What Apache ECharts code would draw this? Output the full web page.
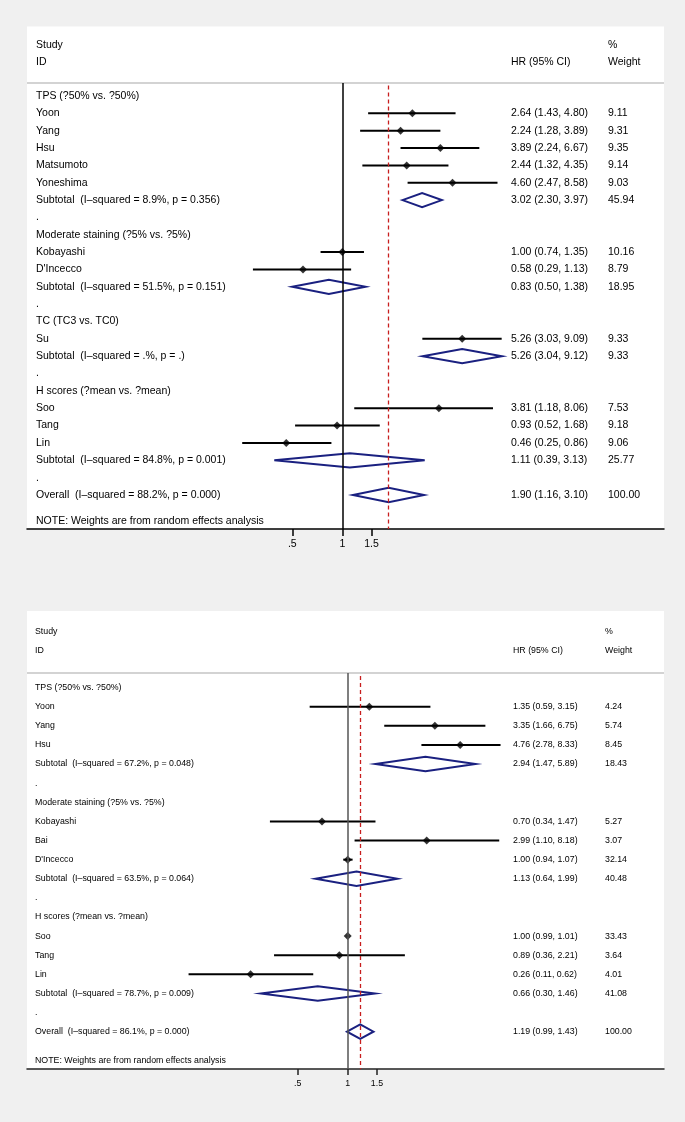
<!DOCTYPE html>
<html><head><meta charset="utf-8">
<script src="https://cdn.jsdelivr.net/npm/echarts@6/dist/echarts.min.js"></script>
<style>html,body{margin:0;padding:0;background:#f0f0f0;}#c{width:685px;height:1122px;}</style>
</head><body><div id="c"></div>
<script>
// ---------- Panel A (top) ----------
const studiesA = ['TPS (?50% vs. ?50%)','Yoon','Yang','Hsu','Matsumoto','Yoneshima','Subtotal  (I\u2013squared = 8.9%, p = 0.356)','.',
  'Moderate staining (?5% vs. ?5%)','Kobayashi',"D'Incecco",'Subtotal  (I\u2013squared = 51.5%, p = 0.151)','.',
  'TC (TC3 vs. TC0)','Su','Subtotal  (I\u2013squared = .%, p = .)','.',
  'H scores (?mean vs. ?mean)','Soo','Tang','Lin','Subtotal  (I\u2013squared = 84.8%, p = 0.001)','.',
  'Overall  (I\u2013squared = 88.2%, p = 0.000)'];
const hrA     = [null,2.64,2.24,3.89,2.44,4.60,3.02,null,null,1.00,0.58,0.83,null,null,5.26,5.26,null,null,3.81,0.93,0.46,1.11,null,1.90];
const lowA    = [null,1.43,1.28,2.24,1.32,2.47,2.30,null,null,0.74,0.29,0.50,null,null,3.03,3.04,null,null,1.18,0.52,0.25,0.39,null,1.16];
const highA   = [null,4.80,3.89,6.67,4.35,8.58,3.97,null,null,1.35,1.13,1.38,null,null,9.09,9.12,null,null,8.06,1.68,0.86,3.13,null,3.10];
const weightA = [null,9.11,9.31,9.35,9.14,9.03,45.94,null,null,10.16,8.79,18.95,null,null,9.33,9.33,null,null,7.53,9.18,9.06,25.77,null,100.00];

// ---------- Panel B (bottom) ----------
const studiesB = ['TPS (?50% vs. ?50%)','Yoon','Yang','Hsu','Subtotal  (I\u2013squared = 67.2%, p = 0.048)','.',
  'Moderate staining (?5% vs. ?5%)','Kobayashi','Bai',"D'Incecco",'Subtotal  (I\u2013squared = 63.5%, p = 0.064)','.',
  'H scores (?mean vs. ?mean)','Soo','Tang','Lin','Subtotal  (I\u2013squared = 78.7%, p = 0.009)','.',
  'Overall  (I\u2013squared = 86.1%, p = 0.000)'];
const hrB     = [null,1.35,3.35,4.76,2.94,null,null,0.70,2.99,1.00,1.13,null,null,1.00,0.89,0.26,0.66,null,1.19];
const lowB    = [null,0.59,1.66,2.78,1.47,null,null,0.34,1.10,0.94,0.64,null,null,0.99,0.36,0.11,0.30,null,0.99];
const highB   = [null,3.15,6.75,8.33,5.89,null,null,1.47,8.18,1.07,1.99,null,null,1.01,2.21,0.62,1.46,null,1.43];
const weightB = [null,4.24,5.74,8.45,18.43,null,null,5.27,3.07,32.14,40.48,null,null,33.43,3.64,4.01,41.08,null,100.00];

// ---------- shared texts / ticks ----------
const headerStudy = ['Study','ID'];
const headerEst = 'HR (95% CI)';
const headerWeight = ['%','Weight'];
const noteText = 'NOTE: Weights are from random effects analysis';
const tickValues = [0.5, 1, 1.5];
const tickLabels = ['.5','1','1.5'];

// ---------- layout (not data) ----------
const layouts = [
  {top:26.6, height:502.4, left:27, width:637, xMin:0.01269, xMax:86.1, yMin:-4, yMax:24.96,
   font:10.5, textX:[9,484,581], noteRow:24.5, headRows:[-2.95,-1.95], lineRow:-0.75,
   axisColor:'#000', zeroColor:'#000', dh:0.41, tickLen:7},
  {top:611.1, height:457.9, left:27, width:637, xMin:0.01170, xMax:80.4, yMin:-4, yMax:19.95,
   font:8.8, textX:[8,486,578], noteRow:19.53, headRows:[-2.95,-1.95], lineRow:-0.76,
   axisColor:'#222', zeroColor:'#555', dh:0.38, tickLen:6}
];
const panelData = [
  {studies:studiesA, hr:hrA, low:lowA, high:highA, weight:weightA},
  {studies:studiesB, hr:hrB, low:lowB, high:highB, weight:weightB}
];

const FONT = '"Liberation Sans", Arial, Helvetica, sans-serif';
const NAVY = '#1a2080';

const grids = [], xAxes = [], yAxes = [], series = [];

panelData.forEach((d, pi) => {
  const L = layouts[pi];
  grids.push({left:L.left, top:L.top, width:L.width, height:L.height, show:true, backgroundColor:'#fff', borderWidth:0});
  xAxes.push({
    type:'log', gridIndex:pi, min:L.xMin, max:L.xMax, logBase:10,
    axisLine:{show:true, onZero:false, lineStyle:{color:L.axisColor, width:1.5}},
    axisTick:{show:true, customValues:tickValues, length:L.tickLen, lineStyle:{color:L.axisColor, width:1.5}},
    axisLabel:{show:true, customValues:tickValues, fontSize:L.font, fontFamily:FONT, color:'#000', margin:10,
      formatter: v => { const k = tickValues.findIndex(t => Math.abs(t - v) < 1e-6); return k >= 0 ? tickLabels[k] : ''; }},
    splitLine:{show:false}, minorTick:{show:false}
  });
  yAxes.push({type:'value', gridIndex:pi, inverse:true, min:L.yMin, max:L.yMax, show:false, splitLine:{show:false}});

  const isPooled = s => s.startsWith('Subtotal') || s.startsWith('Overall');
  const overallIdx = d.studies.findIndex(s => s.startsWith('Overall'));

  // text items
  const items = [];
  items.push({row:L.headRows[0], a:headerStudy[0], b:'', c:headerWeight[0]});
  items.push({row:L.headRows[1], a:headerStudy[1], b:headerEst, c:headerWeight[1]});
  d.studies.forEach((s, i) => {
    const h = d.hr[i];
    items.push({row:i, a:s,
      b: h == null ? '' : `${h.toFixed(2)} (${d.low[i].toFixed(2)}, ${d.high[i].toFixed(2)})`,
      c: d.weight[i] == null ? '' : d.weight[i].toFixed(2)});
  });
  items.push({row:L.noteRow, a:noteText, b:'', c:''});

  series.push({
    type:'custom', xAxisIndex:pi, yAxisIndex:pi, clip:false, silent:true, z:5,
    data: items.map(it => [1, it.row]),
    renderItem: (params, api) => {
      const it = items[params.dataIndex];
      const y = api.coord([1, api.value(1)])[1];
      const cs = params.coordSys;
      const mk = (x, t) => ({type:'text', style:{x: cs.x + x, y: y, text: t, fill:'#000',
        font: `${L.font}px ${FONT}`, fontSize:L.font, fontFamily:FONT, verticalAlign:'middle', align:'left'}});
      return {type:'group', children:[mk(L.textX[0], it.a), mk(L.textX[1], it.b), mk(L.textX[2], it.c)]};
    }
  });

  const ciData = [], ptData = [], poolData = [];
  d.studies.forEach((s, i) => {
    if (d.hr[i] == null) return;
    if (isPooled(s)) poolData.push([d.low[i], d.hr[i], d.high[i], i]);
    else { ciData.push([d.low[i], d.high[i], i]); ptData.push([d.hr[i], i]); }
  });

  series.push({
    type:'custom', xAxisIndex:pi, yAxisIndex:pi, silent:true, z:3,
    encode:{x:[0,1], y:2},
    data: ciData,
    renderItem: (params, api) => {
      const p1 = api.coord([api.value(0), api.value(2)]);
      const p2 = api.coord([api.value(1), api.value(2)]);
      return {type:'line', shape:{x1:p1[0], y1:p1[1], x2:p2[0], y2:p2[1]}, style:{stroke:'#000', lineWidth:2}};
    }
  });

  series.push({
    type:'scatter', xAxisIndex:pi, yAxisIndex:pi, silent:true, z:4,
    symbol:'diamond', symbolSize:[8,8], itemStyle:{color:'#000'},
    data: ptData,
    markLine:{
      silent:true, symbol:'none', label:{show:false}, animation:false,
      data:[
        [{coord:[L.xMin, L.lineRow], lineStyle:{color:'#c4c4c4', width:1.5, type:'solid'}}, {coord:[L.xMax, L.lineRow]}],
        [{coord:[1, L.lineRow], lineStyle:{color:L.zeroColor, width:1.5, type:'solid'}}, {coord:[1, L.yMax]}],
        [{coord:[d.hr[overallIdx], L.lineRow + 0.15], lineStyle:{color:'#c81e1e', width:1.3, type:[4,3]}}, {coord:[d.hr[overallIdx], L.yMax]}]
      ]
    }
  });

  series.push({
    type:'custom', xAxisIndex:pi, yAxisIndex:pi, silent:true, z:4,
    encode:{x:[0,1,2], y:3},
    data: poolData,
    renderItem: (params, api) => {
      const r = api.value(3);
      const l = api.coord([api.value(0), r]);
      const c = api.coord([api.value(1), r]);
      const h = api.coord([api.value(2), r]);
      const t = api.coord([api.value(1), r - L.dh]);
      const b = api.coord([api.value(1), r + L.dh]);
      return {type:'polygon', shape:{points:[[l[0],l[1]],[t[0],t[1]],[h[0],h[1]],[b[0],b[1]]]},
        style:{fill:'none', stroke:NAVY, lineWidth:2}};
    }
  });
});

const chart = echarts.init(document.getElementById('c'), null, {renderer:'canvas'});
chart.setOption({
  backgroundColor:'#f0f0f0',
  animation:false,
  grid:grids, xAxis:xAxes, yAxis:yAxes, series:series
});
</script>
</body></html>
